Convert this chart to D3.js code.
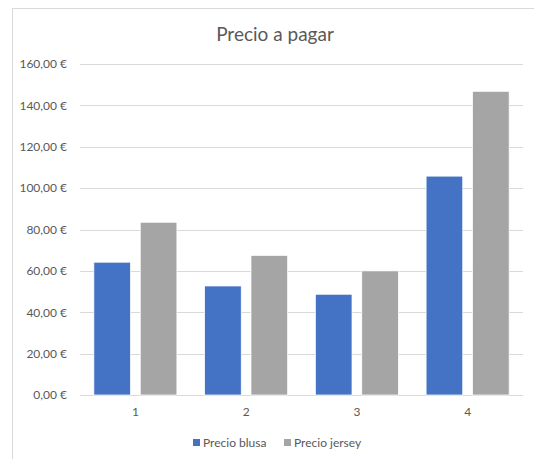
<!DOCTYPE html>
<html>
<head>
<meta charset="utf-8">
<script src="https://cdn.jsdelivr.net/npm/d3@7"></script>
<style>
  html, body { margin: 0; padding: 0; background: #fff; }
  svg { display: block; }
  text { font-family: Lato, "Open Sans", sans-serif; fill: #595959; }
</style>
</head>
<body>
<svg id="chart" width="534" height="459"></svg>
<script>
const categories = ["1", "2", "3", "4"];
const seriesNames = ["Precio blusa", "Precio jersey"];
const blusa = [64.2, 52.7, 48.7, 105.8];
const jersey = [83.5, 67.5, 60.0, 146.8];
const yTicks = [0, 20, 40, 60, 80, 100, 120, 140, 160];
const colors = ["#4472C4", "#A5A5A5"];

const svg = d3.select("#chart");
const W = 534, H = 459;

// chart frame (left and top edges)
svg.append("rect").attr("x", 12.5).attr("y", 8.5)
  .attr("width", W + 10).attr("height", H + 10)
  .attr("fill", "#fff").attr("stroke", "#d9d9d9").attr("stroke-width", 1);

const plot = { left: 80, right: 523, top: 64, bottom: 395 };

const x = d3.scaleBand().domain(categories)
  .range([plot.left, plot.right]).paddingInner(0.25).paddingOuter(0.125);
const x1 = d3.scaleBand().domain(seriesNames)
  .range([0, x.bandwidth()]).paddingInner(0.21);
const y = d3.scaleLinear().domain([0, 160]).range([plot.bottom, plot.top]);

const fmt = v => d3.format(".2f")(v).replace(".", ",") + " €";

// gridlines
svg.append("g").selectAll("line").data(yTicks).join("line")
  .attr("x1", plot.left).attr("x2", plot.right)
  .attr("y1", d => Math.round(y(d)) + 0.5).attr("y2", d => Math.round(y(d)) + 0.5)
  .attr("stroke", "#d9d9d9").attr("stroke-width", 1);

// y axis labels
const yAxis = d3.axisLeft(y).tickValues(yTicks).tickFormat(fmt).tickSize(0).tickPadding(13);
const ya = svg.append("g").attr("transform", `translate(${plot.left},0)`).call(yAxis);
ya.select(".domain").remove();
ya.selectAll("text").attr("font-size", 12).style("fill", "#595959")
  .style("font-family", "Lato, 'Open Sans', sans-serif");

// x axis labels
const xAxis = d3.axisBottom(x).tickSize(0).tickPadding(12);
const xa = svg.append("g").attr("transform", `translate(0,${plot.bottom})`).call(xAxis);
xa.select(".domain").remove();
xa.selectAll("text").attr("font-size", 12).style("fill", "#595959")
  .style("font-family", "Lato, 'Open Sans', sans-serif");

// bars
const rows = categories.map((c, i) => ({ cat: c, vals: [blusa[i], jersey[i]] }));
const groups = svg.append("g").selectAll("g").data(rows).join("g")
  .attr("transform", d => `translate(${x(d.cat)},0)`);
groups.selectAll("rect").data(d => d.vals.map((v, k) => ({ name: seriesNames[k], v, k })))
  .join("rect")
  .attr("x", d => x1(d.name))
  .attr("width", x1.bandwidth())
  .attr("y", d => y(d.v))
  .attr("height", d => y(0) - y(d.v))
  .attr("fill", d => colors[d.k])
  .attr("stroke", "#fff").attr("stroke-width", 0.75);

// title
svg.append("text").attr("x", 275).attr("y", 41)
  .attr("text-anchor", "middle").attr("font-size", 19)
  .text("Precio a pagar");

// legend
const legendX = [193, 284];
const lg = svg.append("g").selectAll("g").data(seriesNames).join("g")
  .attr("transform", (d, i) => `translate(${legendX[i]},439)`);
lg.append("rect").attr("width", 7).attr("height", 7)
  .attr("fill", (d, i) => colors[i]);
lg.append("text").attr("x", 10).attr("y", 3.5).attr("dy", "0.35em")
  .attr("font-size", 12).text(d => d);
</script>
</body>
</html>
